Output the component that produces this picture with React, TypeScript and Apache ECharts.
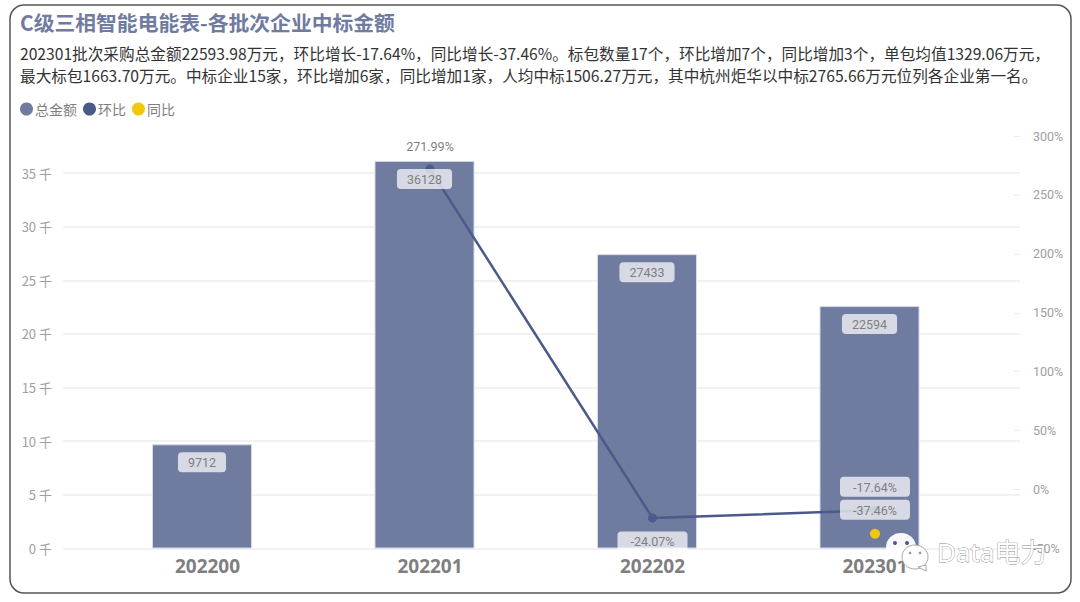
import React, { useEffect, useRef } from "react";
import * as echarts from "echarts";

const titleText = "C级三相智能电能表-各批次企业中标金额";
const summaryLine1 = "202301批次采购总金额22593.98万元，环比增长-17.64%，同比增长-37.46%。标包数量17个，环比增加7个，同比增加3个，单包均值1329.06万元，";
const summaryLine2 = "最大标包1663.70万元。中标企业15家，环比增加6家，同比增加1家，人均中标1506.27万元，其中杭州炬华以中标2765.66万元位列各企业第一名。";
const watermarkText = "Data电力";

const categories = ["202200", "202201", "202202", "202301"];
const totalAmount = [9712, 36128, 27433, 22594];
const huanbi = [null, 271.99, -24.07, -17.64];
const tongbi = [null, null, null, -37.46];

const BAR = "#6f7b9f";
const LINE = "#4a5a8a";
const YELLOW = "#f2c80f";
const GREY = "#7f7f7f";
const AXIS_GREY = "#a0a0a0";
const GRID_LINE = "#eeeef0";
const FONT = '"Noto Sans CJK SC", "Noto Sans", sans-serif';
const NUM_FONT = 'Roboto, "Noto Sans", sans-serif';

const pctLabel = {
  show: true,
  position: "top" as const,
  distance: 9,
  color: GREY,
  fontFamily: NUM_FONT,
  fontSize: 12.5,
  backgroundColor: "rgba(255,255,255,0.72)",
  borderRadius: 4,
  padding: [4, 13, 3, 13],
  formatter: (p: any) => `${Number(p.value).toFixed(2)}%`,
};

export default function App() {
  const ref = useRef<HTMLDivElement>(null);
  useEffect(() => {
    const chart = echarts.init(ref.current!, null, { renderer: "svg" });
    const option: any = {
      animation: false,
      backgroundColor: "#ffffff",
      textStyle: { fontFamily: FONT },
      legend: {
        left: 20,
        top: 102,
        icon: "circle",
        itemWidth: 13,
        itemHeight: 13,
        itemGap: 6,
        padding: 0,
        data: ["总金额", "环比", "同比"],
        itemStyle: { borderWidth: 0 },
        textStyle: { color: GREY, fontSize: 14, fontFamily: FONT, padding: [0, 0, 0, -3] },
      },
      grid: [
        { left: 63, right: 60, top: 136, bottom: 53.5 },
        { left: 96.25, right: 93.75, top: 136, bottom: 53.5 },
      ],
      xAxis: [
        { type: "value", gridIndex: 0, show: false, min: 0, max: 1 },
        {
          type: "category",
          gridIndex: 1,
          data: categories,
          axisLine: { show: false },
          axisTick: { show: false },
          axisLabel: { color: GREY, fontSize: 19, fontWeight: "bold", margin: 8, fontFamily: '"Noto Sans", sans-serif' },
        },
      ],
      yAxis: [
        {
          type: "value",
          gridIndex: 0,
          min: 0,
          max: 38450,
          interval: 5000,
          axisLine: { show: false },
          axisTick: { show: false },
          axisLabel: {
            color: AXIS_GREY,
            fontSize: 13,
            margin: 11,
            showMaxLabel: false,
            formatter: (v: number) => (v > 35000 ? "" : `${v / 1000} 千`),
          },
          splitLine: { show: true, showMaxLine: false, lineStyle: { color: GRID_LINE, width: 1.5 } },
        },
        {
          type: "value",
          gridIndex: 0,
          position: "right",
          min: -50,
          max: 300,
          interval: 50,
          axisLine: { show: false },
          axisTick: { show: true, inside: true, length: 7, lineStyle: { color: GRID_LINE } },
          axisLabel: { color: AXIS_GREY, fontSize: 12.5, margin: 13, fontFamily: NUM_FONT, formatter: "{value}%" },
          splitLine: { show: false },
        },
        { type: "value", gridIndex: 1, show: false, min: 0, max: 38450, splitLine: { show: false } },
        { type: "value", gridIndex: 1, show: false, min: -50, max: 300, splitLine: { show: false } },
      ],
      series: [
        {
          name: "总金额",
          type: "bar",
          xAxisIndex: 1,
          yAxisIndex: 2,
          barWidth: 100,
          barGap: 0,
          data: totalAmount,
          itemStyle: { color: BAR, borderColor: "#d5d9e8", borderWidth: 1 },
        },
        // transparent slot beside the bar: it moves the bars a little left of the
        // category centre, and carries their value labels above the line series
        {
          name: "金额标签",
          type: "bar",
          xAxisIndex: 1,
          yAxisIndex: 2,
          barWidth: 11,
          barGap: 0,
          data: totalAmount,
          silent: true,
          z: 5,
          itemStyle: { color: "transparent" },
          label: {
            show: true,
            position: "insideTop",
            distance: 8,
            offset: [-55.5, 0],
            color: GREY,
            fontFamily: NUM_FONT,
            fontSize: 12.5,
            backgroundColor: "rgba(255,255,255,0.72)",
            borderRadius: 4,
            padding: [4, 10, 3, 10],
          },
        },
        {
          name: "环比",
          type: "line",
          xAxisIndex: 1,
          yAxisIndex: 3,
          data: huanbi.map((v, i) => (i === 2 ? { value: v, label: { position: "bottom" } } : v)),
          symbol: "circle",
          symbolSize: 9,
          lineStyle: { color: LINE, width: 2.5 },
          itemStyle: { color: LINE },
          label: pctLabel,
          z: 3,
        },
        {
          name: "同比",
          type: "line",
          xAxisIndex: 1,
          yAxisIndex: 3,
          data: tongbi,
          symbol: "circle",
          symbolSize: 10,
          lineStyle: { color: YELLOW, width: 3 },
          itemStyle: { color: YELLOW },
          label: pctLabel,
          z: 3,
        },
      ],
      graphic: [
        {
          type: "rect",
          z: -1,
          silent: true,
          shape: { x: 10, y: 5, width: 1061, height: 588, r: 14 },
          style: { fill: "transparent", stroke: "#555555", lineWidth: 1.5 },
        },
        { type: "text", x: 20, y: 12, style: { text: titleText, fill: BAR, font: `bold 20.8px ${FONT}` } },
        { type: "text", x: 20, y: 46, style: { text: summaryLine1, fill: "#333333", font: `15.65px ${FONT}` } },
        { type: "text", x: 20, y: 68, style: { text: summaryLine2, fill: "#333333", font: `15.65px ${FONT}` } },
        { type: "ellipse", z: 100, silent: true, shape: { cx: 901, cy: 547, rx: 15, ry: 14 }, style: { fill: "rgba(255,255,255,0.95)" } },
        { type: "circle", z: 101, silent: true, shape: { cx: 895, cy: 543, r: 2 }, style: { fill: LINE } },
        { type: "circle", z: 101, silent: true, shape: { cx: 907, cy: 543, r: 2 }, style: { fill: LINE } },
        { type: "ellipse", z: 102, silent: true, shape: { cx: 915, cy: 557, rx: 13, ry: 12 }, style: { fill: "rgba(255,255,255,0.9)", stroke: "#aaaaaa", lineWidth: 1 } },
        { type: "polygon", z: 102, silent: true, shape: { points: [[918, 567], [926, 565], [926, 571]] }, style: { fill: "#ffffff", stroke: "#aaaaaa", lineWidth: 1 } },
        { type: "circle", z: 103, silent: true, shape: { cx: 910, cy: 553, r: 1.3 }, style: { fill: "#999999" } },
        { type: "circle", z: 103, silent: true, shape: { cx: 920, cy: 553, r: 1.3 }, style: { fill: "#999999" } },
        {
          type: "text",
          z: 104,
          silent: true,
          x: 937,
          y: 539,
          style: {
            text: watermarkText,
            fill: "#ffffff",
            font: `26px "Noto Sans", "Noto Sans CJK SC", sans-serif`,
            stroke: "#8a8a8a",
            lineWidth: 0.8,
          },
        },
      ],
    };
    chart.setOption(option);
    return () => chart.dispose();
  }, []);
  return <div ref={ref} style={{ position: "fixed", left: 0, top: 0, width: 1080, height: 602 }} />;
}
